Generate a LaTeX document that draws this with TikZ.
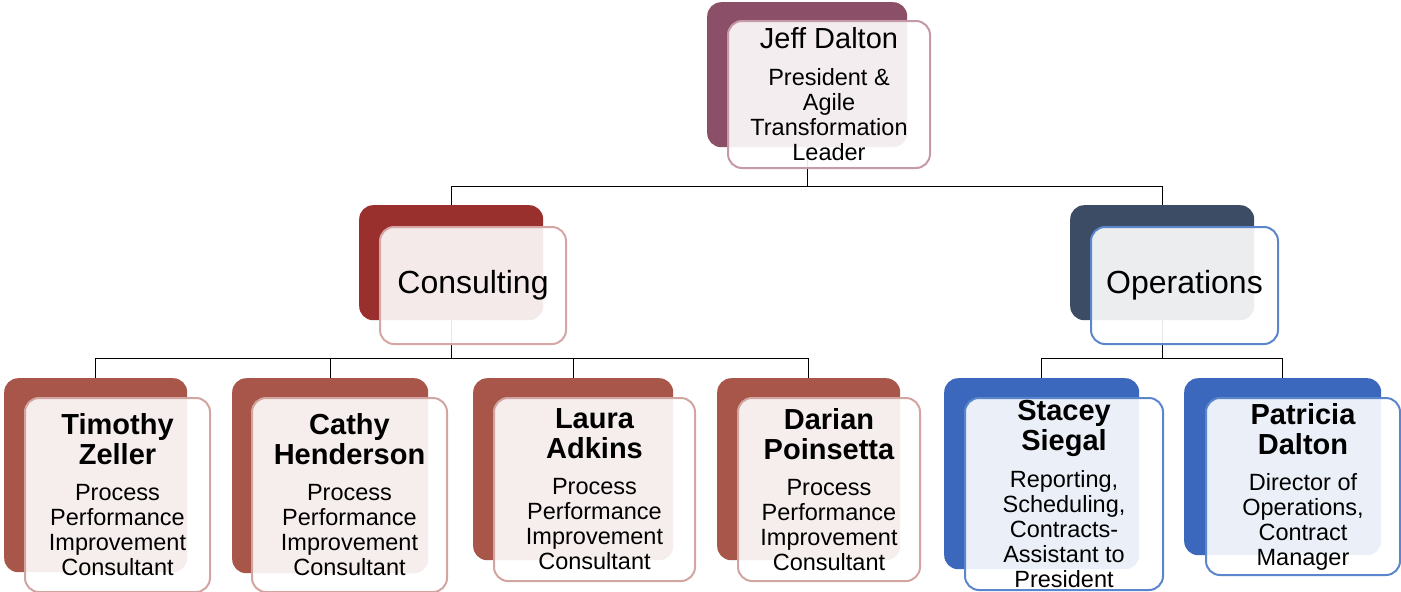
\documentclass[tikz,border=0pt]{standalone}
\usepackage{fontspec}
\setmainfont{Liberation Sans}
\usetikzlibrary{positioning, backgrounds}

\definecolor{plum}{HTML}{8B5068}
\definecolor{plumline}{HTML}{C39AA6}
\definecolor{brick}{HTML}{9A302D}
\definecolor{brickline}{HTML}{D5A6A4}
\definecolor{rust}{HTML}{A9564A}
\definecolor{rustline}{HTML}{D2A5A1}
\definecolor{slate}{HTML}{3D4C65}
\definecolor{royal}{HTML}{3B67BD}
\definecolor{royalline}{HTML}{5B86CB}

\tikzstyle{back}=[rectangle, rounded corners=14pt, inner sep=0pt, anchor=north west]
\tikzstyle{front}=[rectangle, rounded corners=14pt, draw, line width=2pt,
  fill=white, fill opacity=0.9, text opacity=1, inner sep=0pt,
  align=center, anchor=north west]
\tikzstyle{link}=[draw, line width=1.2pt]

\newcommand{\fixspace}{\spaceskip=\fontdimen2\font\relax}
\newcommand{\pname}[1]{{\fontsize{29}{30}\selectfont\bfseries\fixspace #1\par}}
\newcommand{\ptitle}[1]{{\fontsize{23.5}{25}\selectfont\fixspace #1\par}}

\begin{document}
\begin{tikzpicture}[x=1pt, y=-1pt]
  \useasboundingbox (0,0) rectangle (1401,592);

  % top
  \node[back, fill=plum, minimum width=200pt, minimum height=145pt] (jeffb) at (707,2) {};
  \node[front, draw=plumline, minimum width=202pt, minimum height=147pt, text width=190pt]
    (jeff) at ([shift={(20,18)}]jeffb.north west)
    {{\fontsize{29}{30}\selectfont\fixspace Jeff Dalton\par}\vspace{12pt}%
     \ptitle{President \&\\Agile\\Transformation\\Leader}};

  % departments
  \node[back, fill=brick, minimum width=184pt, minimum height=115pt] (consb) at (359,205) {};
  \node[front, draw=brickline, minimum width=186pt, minimum height=117pt,
    font=\fontsize{32}{36}\selectfont] (cons) at ([shift={(20,21)}]consb.north west) {Consulting};
  \node[back, fill=slate, minimum width=184pt, minimum height=115pt] (opsb) at (1070,205) {};
  \node[front, draw=royalline, minimum width=187pt, minimum height=117pt,
    font=\fontsize{32}{36}\selectfont] (ops) at ([shift={(20,21)}]opsb.north west) {Operations};

  % consulting staff
  \node[back, fill=rust, minimum width=183pt, minimum height=194pt] (timb) at (4,378) {};
  \node[front, draw=rustline, minimum width=185pt, minimum height=194pt, text width=173pt]
    (tim) at ([shift={(20,19)}]timb.north west)
    {\pname{Timothy\\Zeller}\vspace{11pt}\ptitle{Process\\Performance\\Improvement\\Consultant}};
  \node[back, fill=rust, minimum width=196pt, minimum height=195pt] (cathyb) at (232,378) {};
  \node[front, draw=rustline, minimum width=195pt, minimum height=194pt, text width=183pt]
    (cathy) at ([shift={(19,19)}]cathyb.north west)
    {\pname{Cathy\\Henderson}\vspace{11pt}\ptitle{Process\\Performance\\Improvement\\Consultant}};
  \node[back, fill=rust, minimum width=200pt, minimum height=182pt] (laurab) at (473,378) {};
  \node[front, draw=rustline, minimum width=201pt, minimum height=183pt, text width=189pt]
    (laura) at ([shift={(20,19)}]laurab.north west)
    {\pname{Laura\\Adkins}\vspace{11pt}\ptitle{Process\\Performance\\Improvement\\Consultant}};
  \node[back, fill=rust, minimum width=183pt, minimum height=182pt] (darianb) at (717,378) {};
  \node[front, draw=rustline, minimum width=182pt, minimum height=183pt, text width=172pt]
    (darian) at ([shift={(20,19)}]darianb.north west)
    {\pname{Darian\\Poinsetta}\vspace{11pt}\ptitle{Process\\Performance\\Improvement\\Consultant}};

  % operations staff
  \node[back, fill=royal, minimum width=195pt, minimum height=191pt] (staceyb) at (944,378) {};
  \node[front, draw=royalline, minimum width=198pt, minimum height=192pt, text width=186pt]
    (stacey) at ([shift={(20,19)}]staceyb.north west)
    {\pname{Stacey\\Siegal}\vspace{12pt}\ptitle{Reporting,\\Scheduling,\\Contracts-\\Assistant to\\President}};
  \node[back, fill=royal, minimum width=197pt, minimum height=177pt] (patb) at (1184,378) {};
  \node[front, draw=royalline, minimum width=194pt, minimum height=177pt, text width=182pt]
    (pat) at ([shift={(21,19)}]patb.north west)
    {\pname{Patricia\\Dalton}\vspace{11pt}\ptitle{Director of\\Operations,\\Contract\\Manager}};

  % connectors
  \begin{scope}[on background layer]
    \draw[link] (jeffb.south) -- ++(0,39) -| (consb.north);
    \draw[link] (jeffb.south) ++(0,39) -| (opsb.north);
    \foreach \p in {timb,cathyb,laurab,darianb}
      \draw[link] (consb.south) -- ++(0,38) -| (\p.north);
    \foreach \p in {staceyb,patb}
      \draw[link] (opsb.south) -- ++(0,38) -| (\p.north);
  \end{scope}
\end{tikzpicture}
\end{document}
